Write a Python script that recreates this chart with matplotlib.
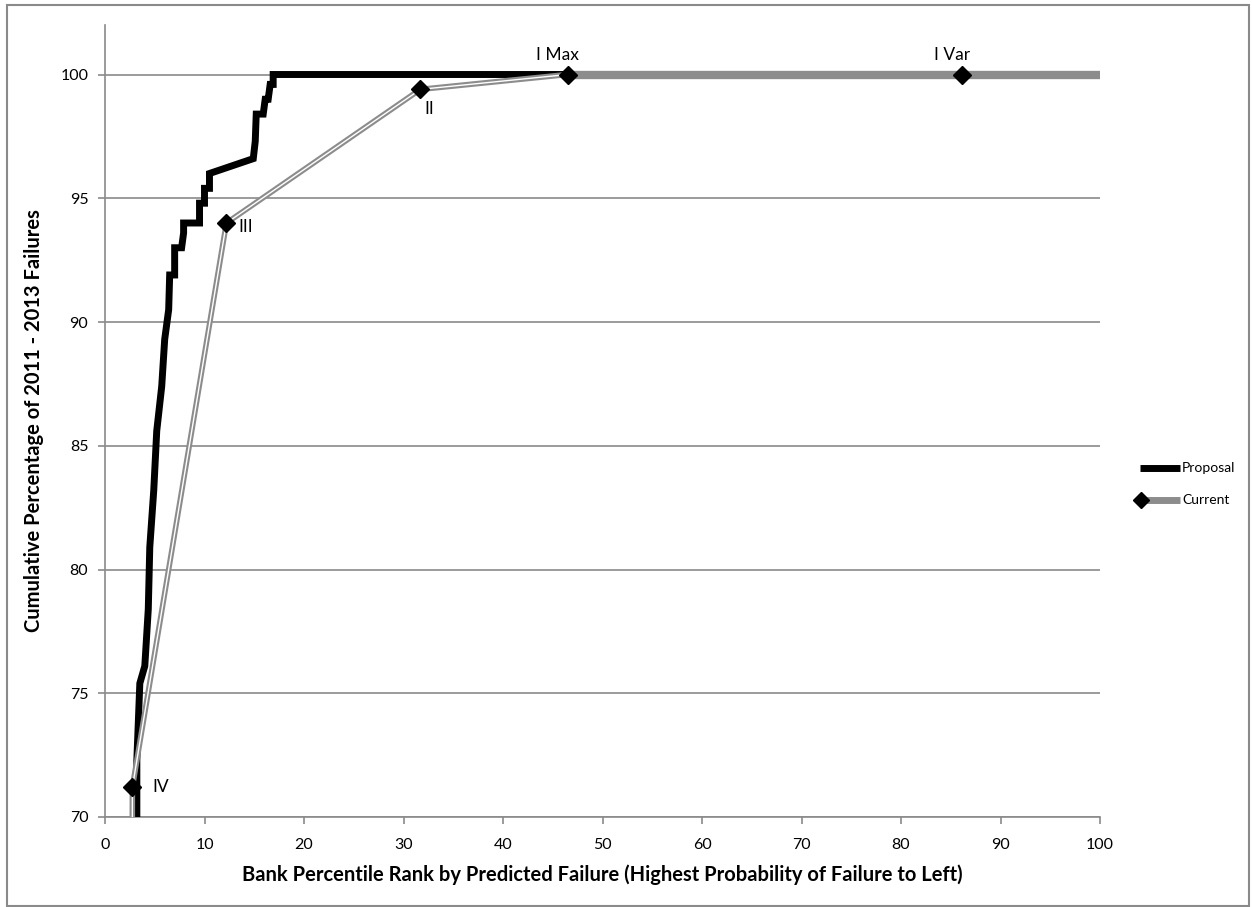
import matplotlib
matplotlib.use("Agg")
import matplotlib.pyplot as plt
from matplotlib.lines import Line2D
from matplotlib.patches import Rectangle

# Proposal: cumulative share of failures captured vs. percentile rank
proposal_x = [3.2, 3.2, 3.5, 4.0, 4.35, 4.5, 4.9, 5.2, 5.7, 6.0, 6.4, 6.5, 7.0, 7.0, 7.7,
              7.9, 7.9, 9.5, 9.5, 10.0, 10.0, 10.5, 10.5, 14.9, 15.1, 15.2, 15.9, 16.1,
              16.4, 16.6, 16.9, 16.9, 100.0]
proposal_y = [68.0, 72.3, 75.4, 76.1, 78.4, 80.9, 83.2, 85.6, 87.4, 89.3, 90.5, 91.9, 91.9,
              93.0, 93.0, 93.6, 94.0, 94.0, 94.8, 94.8, 95.4, 95.4, 96.0, 96.6, 97.3, 98.4,
              98.4, 99.0, 99.0, 99.6, 99.6, 100.0, 100.0]

# Current rating thresholds
current_x = [2.5, 2.75, 12.2, 31.7, 46.5, 86.1, 100.0]
current_y = [0.0, 71.2, 94.0, 99.4, 100.0, 100.0, 100.0]
current_labels = ["", "IV", "III", "II", "I Max", "I Var", ""]

series_names = ["Proposal", "Current"]

FONT = "Lato"
GRID = "#8a8a8a"
CUR_GRAY = "#8c8c8c"

W, H = 1252, 907
fig = plt.figure(figsize=(W / 100, H / 100), dpi=100)
fig.patches.append(Rectangle((7 / W, 1 - 906 / H), 1242 / W, 901 / H, transform=fig.transFigure,
                             fill=False, edgecolor=GRID, linewidth=1.5))

ax = fig.add_axes([105 / W, 1 - 817 / H, 995 / W, 792 / H])
ax.set_xlim(0, 100)
ax.set_ylim(70, 102)
ax.set_xticks(range(0, 101, 10))
ax.set_yticks(range(70, 101, 5))
ax.yaxis.grid(True, color=GRID, linewidth=1.2)
ax.set_axisbelow(True)
for side in ("top", "right"):
    ax.spines[side].set_visible(False)
for side in ("left", "bottom"):
    ax.spines[side].set_color(GRID)
    ax.spines[side].set_linewidth(1.2)
ax.tick_params(colors=GRID, length=5, width=1.2, labelcolor="black", labelsize=11.5)
ax.tick_params(axis="x", pad=10)
ax.tick_params(axis="y", pad=7)
for lab in ax.get_xticklabels() + ax.get_yticklabels():
    lab.set_fontfamily(FONT)

# proposal (black staircase)
ax.plot(proposal_x, proposal_y, color="black", linewidth=5.0, solid_joinstyle="miter", zorder=3)

# current: thick gray, double-line look up to I Max
ax.plot(current_x, current_y, color=CUR_GRAY, linewidth=4.0, zorder=4)
ax.plot(current_x[4:], current_y[4:], color=CUR_GRAY, linewidth=6.0, zorder=4)
ax.plot(current_x[:5], current_y[:5], color="white", linewidth=1.0, zorder=5)
ax.plot(current_x[1:6], current_y[1:6], linestyle="none", marker="D", markersize=9,
        color="black", zorder=6, clip_on=False)

offsets = {"IV": (20, 0), "III": (12, -4), "II": (4, -20), "I Max": (-10, 20), "I Var": (-10, 20)}
for x, y, lab in zip(current_x, current_y, current_labels):
    if not lab:
        continue
    dx, dy = offsets[lab]
    ha = "center" if lab.startswith("I ") else "left"
    ax.annotate(lab, (x, y), xytext=(dx, dy), textcoords="offset pixels", ha=ha,
                va="center", fontsize=12.5, fontfamily=FONT, zorder=7)

ax.set_xlabel("Bank Percentile Rank by Predicted Failure (Highest Probability of Failure to Left)",
              fontsize=14.5, fontweight="bold", fontfamily=FONT, labelpad=9)
ax.set_ylabel("Cumulative Percentage of 2011 - 2013 Failures",
              fontsize=14.5, fontweight="bold", fontfamily=FONT, labelpad=12)

# legend drawn by hand so the Current diamond sits at the left end of its swatch
def fx(px):
    return px / W


def fy(py):
    return 1 - py / H


fig.add_artist(Line2D([fx(1140), fx(1180)], [fy(468), fy(468)], color="black", linewidth=5,
                      solid_capstyle="butt", transform=fig.transFigure))
fig.add_artist(Line2D([fx(1160)], [fy(468)], color="black", marker="o", markersize=3,
                      transform=fig.transFigure))
fig.add_artist(Line2D([fx(1140), fx(1180)], [fy(500), fy(500)], color=CUR_GRAY, linewidth=5,
                      solid_capstyle="butt", transform=fig.transFigure))
fig.add_artist(Line2D([fx(1141)], [fy(500)], color="black", marker="D", markersize=8,
                      transform=fig.transFigure))
for name, py in zip(series_names, [468, 500]):
    fig.text(fx(1182), fy(py), name, ha="left", va="center", fontsize=10, fontfamily=FONT)

fig.savefig("out.png", dpi=100)
